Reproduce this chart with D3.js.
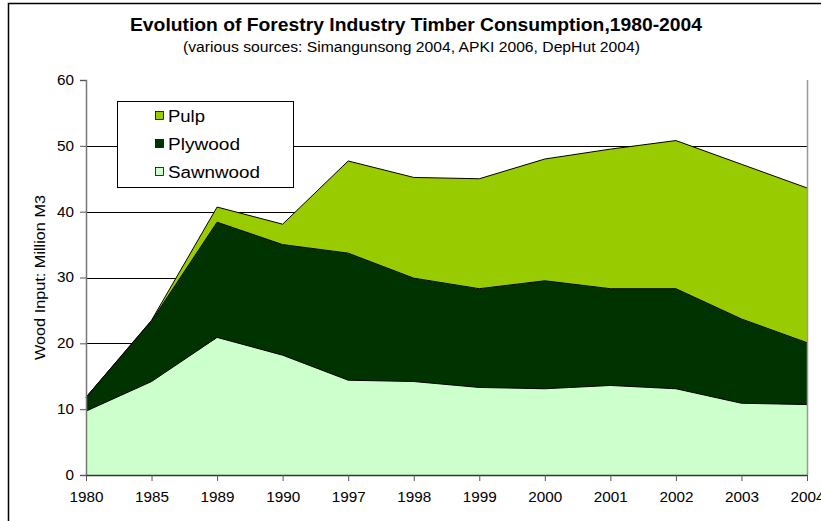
<!DOCTYPE html>
<html>
<head>
<meta charset="utf-8">
<script src="https://cdn.jsdelivr.net/npm/d3@7"></script>
<style>
  body { margin: 0; background: #fff; }
  svg { display: block; font-family: "Liberation Sans", Arial, sans-serif; }
</style>
</head>
<body>
<svg id="chart" width="821" height="521"></svg>
<script>
const years = ["1980","1985","1989","1990","1997","1998","1999","2000","2001","2002","2003","2004"];
const sawnwood = [9.7, 14.2, 20.9, 18.2, 14.4, 14.2, 13.3, 13.1, 13.6, 13.1, 10.9, 10.7];
const plywood  = [2.1, 9.2, 17.5, 16.8, 19.3, 15.7, 15.0, 16.4, 14.7, 15.2, 12.8, 9.4];
const pulp     = [0.0, 0.1, 2.3, 3.1, 14.0, 15.3, 16.7, 18.5, 21.2, 22.5, 23.5, 23.5];
const seriesNames = ["Sawnwood", "Plywood", "Pulp"];
const seriesColors = {Sawnwood: "#ccffcc", Plywood: "#003300", Pulp: "#99cc00"};
const yTicks = [0, 10, 20, 30, 40, 50, 60];

const svg = d3.select("#chart");
const pL = 86, pR = 807, pT = 80, pB = 475;
const FF = "'Liberation Sans', Arial, sans-serif";

// outer frame
svg.append("rect").attr("x", 8.5).attr("y", 3.5).attr("width", 840).attr("height", 540)
  .attr("fill", "none").attr("stroke", "#000").attr("stroke-width", 1.5);

const x = d3.scalePoint().domain(years).range([pL, pR]);
const y = d3.scaleLinear().domain([0, 60]).range([pB, pT]);

const rows = years.map((yr, i) => ({year: yr, Sawnwood: sawnwood[i], Plywood: plywood[i], Pulp: pulp[i]}));
const stack = d3.stack().keys(seriesNames)(rows);

// gridlines
svg.append("g").selectAll("line").data(yTicks.filter(t => t > 0 && t < 60)).join("line")
  .attr("x1", pL).attr("x2", pR)
  .attr("y1", d => Math.round(y(d)) + 0.5).attr("y2", d => Math.round(y(d)) + 0.5)
  .attr("stroke", "#000").attr("stroke-width", 1);

// areas
const area = d3.area().x(d => x(d.data.year)).y0(d => y(d[0])).y1(d => y(d[1]));
const line = d3.line().x(d => x(d.data.year)).y(d => y(d[1]));
svg.append("g").selectAll("path").data(stack).join("path")
  .attr("d", area).attr("fill", d => seriesColors[d.key]);
svg.append("g").selectAll("path").data(stack).join("path")
  .attr("d", line).attr("fill", "none").attr("stroke", "#000").attr("stroke-width", 1);

// right plot border
svg.append("line").attr("x1", pR + 0.5).attr("x2", pR + 0.5).attr("y1", pT).attr("y2", pB)
  .attr("stroke", "#999").attr("stroke-width", 1.5);

// y axis
const yAxis = d3.axisLeft(y).tickValues(yTicks).tickSize(6).tickPadding(6);
const gy = svg.append("g").attr("transform", `translate(${pL},0)`).call(yAxis);
gy.select(".domain").attr("stroke", "#777").attr("stroke-width", 1.5);
gy.selectAll(".tick line").attr("stroke", "#555");
gy.selectAll("text").attr("font-size", 14).attr("fill", "#000").attr("font-family", FF)
  .attr("textLength", d => String(d).length * 8.5).attr("lengthAdjust", "spacingAndGlyphs");

// x axis
const xAxis = d3.axisBottom(x).tickSize(6).tickPadding(11).tickSizeOuter(0);
const gx = svg.append("g").attr("transform", `translate(0,${pB})`).call(xAxis);
gx.select(".domain").attr("stroke", "#333").attr("stroke-width", 1.5);
gx.selectAll(".tick line").attr("stroke", "#555");
gx.selectAll("text").attr("font-size", 14).attr("fill", "#000").attr("font-family", FF)
  .attr("textLength", 34).attr("lengthAdjust", "spacingAndGlyphs");

// titles
svg.append("text").attr("x", 416).attr("y", 31).attr("text-anchor", "middle")
  .attr("font-size", 18).attr("font-weight", "bold")
  .attr("textLength", 572).attr("lengthAdjust", "spacingAndGlyphs")
  .text("Evolution of Forestry Industry Timber Consumption,1980-2004");
svg.append("text").attr("x", 411.5).attr("y", 52).attr("text-anchor", "middle")
  .attr("font-size", 14)
  .attr("textLength", 457).attr("lengthAdjust", "spacingAndGlyphs")
  .text("(various sources:  Simangunsong 2004, APKI 2006, DepHut 2004)");

// y label
svg.append("text").attr("transform", `translate(45,${(pT + pB) / 2}) rotate(-90)`)
  .attr("text-anchor", "middle").attr("font-size", 14)
  .attr("textLength", 165).attr("lengthAdjust", "spacingAndGlyphs")
  .text("Wood Input: Million M3");

// legend
const lg = svg.append("g").attr("transform", "translate(117,101)");
lg.append("rect").attr("x", 0.5).attr("y", 0.5).attr("width", 176).attr("height", 86)
  .attr("fill", "#fff").attr("stroke", "#000").attr("stroke-width", 1);
const legendOrder = ["Pulp", "Plywood", "Sawnwood"];
const legendWidths = {Pulp: 37, Plywood: 72, Sawnwood: 92};
legendOrder.forEach((k, i) => {
  const cy = 15 + i * 28;
  lg.append("rect").attr("x", 38.5).attr("y", cy - 4.5).attr("width", 8).attr("height", 8)
    .attr("fill", seriesColors[k]).attr("stroke", "#000").attr("stroke-width", 0.8);
  lg.append("text").attr("x", 51).attr("y", cy + 6).attr("font-size", 16)
    .attr("textLength", legendWidths[k]).attr("lengthAdjust", "spacingAndGlyphs").text(k);
});
</script>
</body>
</html>
